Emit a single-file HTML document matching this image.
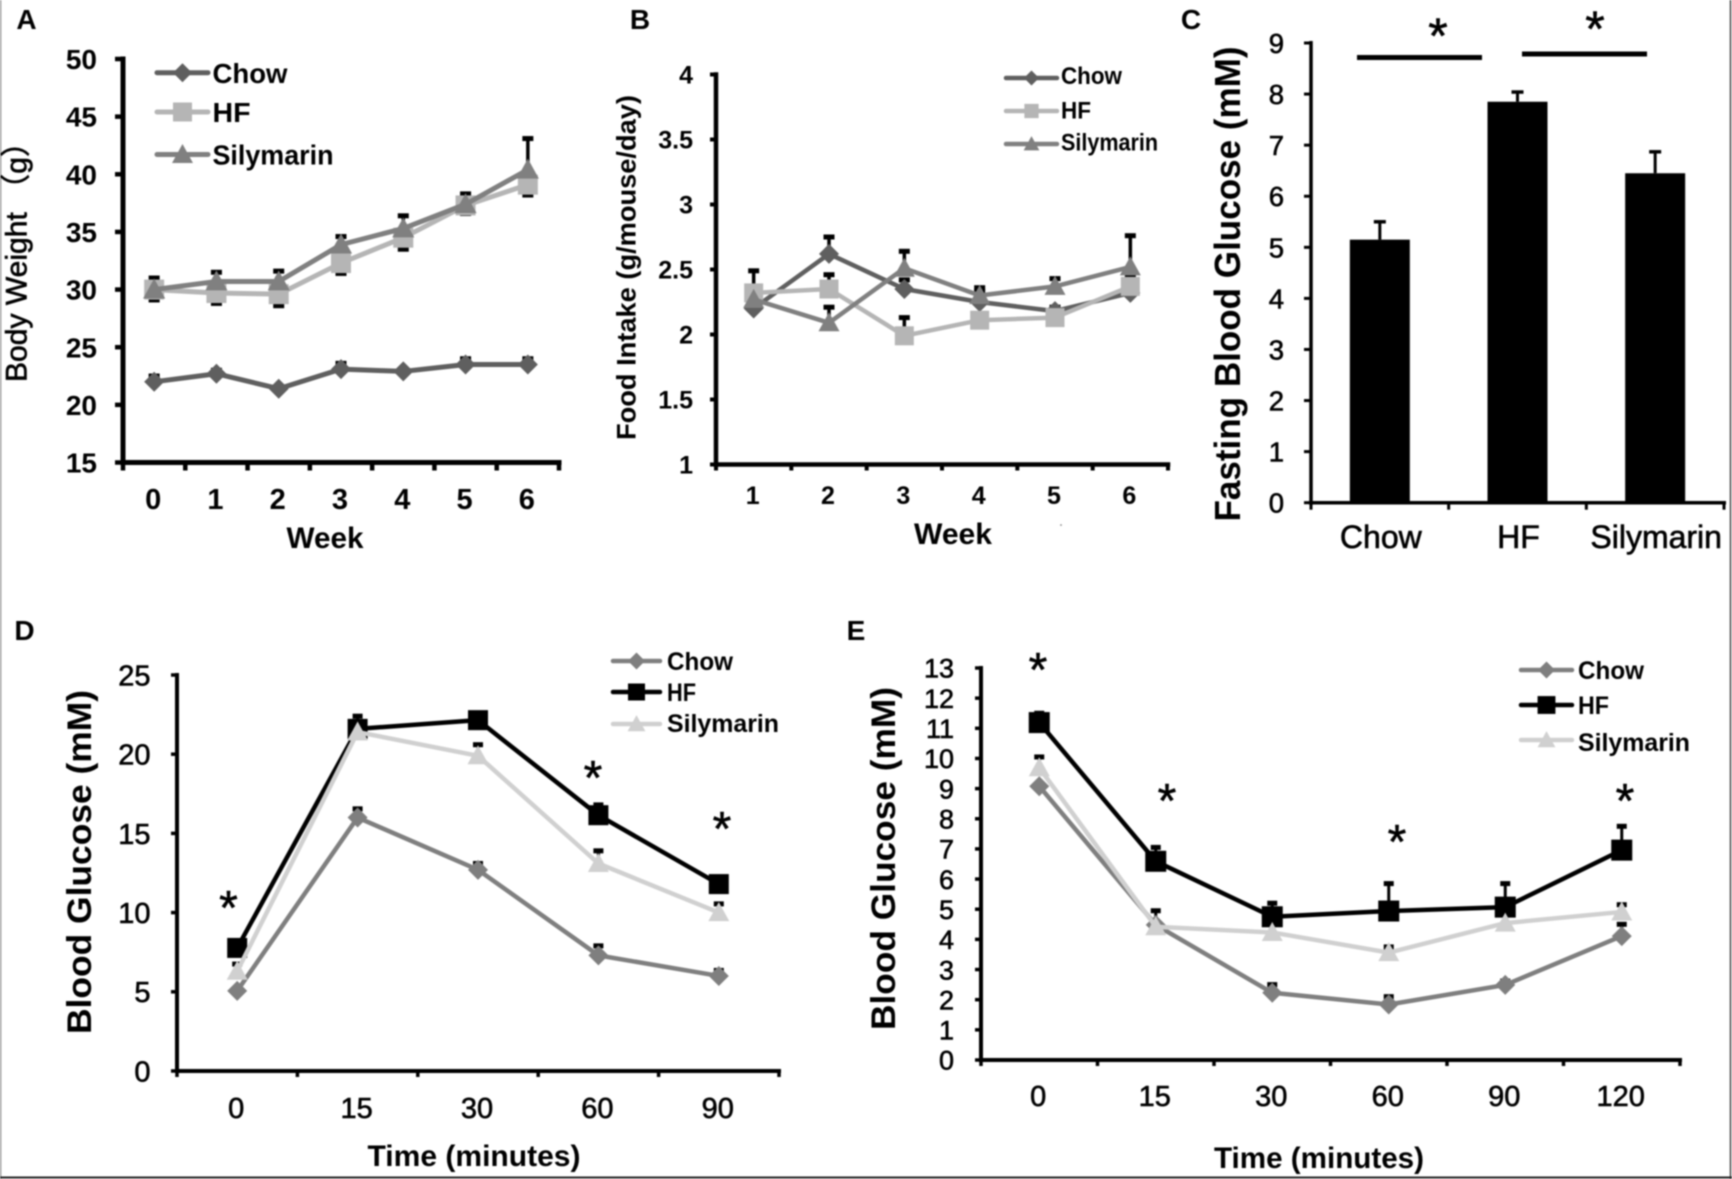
<!DOCTYPE html>
<html lang="en">
<head>
<meta charset="utf-8">
<title>Body weight, food intake and blood glucose panels</title>
<style>
html,body{margin:0;padding:0;background:#fff;width:1732px;height:1179px;overflow:hidden}
svg{display:block;position:absolute;left:0;top:0;filter:blur(.75px)}
text{font-family:"Liberation Sans","Noto Sans CJK SC",sans-serif;fill:#000}
.b{font-weight:bold}
.m{stroke:#000;stroke-width:.6px}
</style>
</head>
<body>
<svg id="fig" width="1732" height="1179" viewBox="0 0 1732 1179" xmlns="http://www.w3.org/2000/svg">
<rect x="0" y="0" width="1732" height="1179" fill="#fff"/>
<line x1="0.5" y1="0" x2="0.5" y2="1179" stroke="#8a8a8a" stroke-width="1.5"/>
<line x1="1730.5" y1="0" x2="1730.5" y2="1179" stroke="#444" stroke-width="1.5"/>
<line x1="0" y1="1177.5" x2="1732" y2="1177.5" stroke="#222" stroke-width="2"/>

<g id="panel-a">
<text class="b" x="26.5" y="29" font-size="28" text-anchor="middle">A</text>
<text class="m" transform="translate(26.6,254.5) rotate(-90)" font-size="30" text-anchor="middle" textLength="255" lengthAdjust="spacingAndGlyphs">Body Weight （g）</text>
<text class="b" x="325" y="548" font-size="30" text-anchor="middle" textLength="77" lengthAdjust="spacingAndGlyphs">Week</text>
</g>

<g id="panel-b">
<text class="b" x="640" y="29" font-size="28" text-anchor="middle">B</text>
<text class="b" transform="translate(635.5,267.5) rotate(-90)" font-size="27" text-anchor="middle" textLength="345" lengthAdjust="spacingAndGlyphs">Food Intake (g/mouse/day)</text>
<text class="b" x="953" y="544" font-size="30" text-anchor="middle" textLength="78" lengthAdjust="spacingAndGlyphs">Week</text>
<circle cx="1061" cy="525" r=".8" fill="#666"/>
</g>

<g id="panel-c">
<text class="b" x="1191" y="29" font-size="28" text-anchor="middle">C</text>
<text class="b" transform="translate(1240,284) rotate(-90)" font-size="36" text-anchor="middle" textLength="475" lengthAdjust="spacingAndGlyphs">Fasting Blood Glucose (mM)</text>
<rect x="1357" y="55" width="125" height="5" fill="#000"/>
<rect x="1522" y="51.5" width="125" height="5" fill="#000"/>
<text class="m" x="1438" y="53" font-size="50" text-anchor="middle">*</text>
<text class="m" x="1595" y="46" font-size="50" text-anchor="middle">*</text>
</g>

<g id="panel-d">
<text class="b" x="24.5" y="640" font-size="28" text-anchor="middle">D</text>
<text class="b" transform="translate(91,862) rotate(-90)" font-size="34" text-anchor="middle" textLength="344" lengthAdjust="spacingAndGlyphs">Blood Glucose (mM)</text>
<text class="b" x="474" y="1166" font-size="30" text-anchor="middle" textLength="213" lengthAdjust="spacingAndGlyphs">Time (minutes)</text>
<text class="m" x="228.5" y="924" font-size="48" text-anchor="middle">*</text>
<text class="m" x="593" y="794" font-size="48" text-anchor="middle">*</text>
<text class="m" x="722" y="845" font-size="48" text-anchor="middle">*</text>
</g>

<g id="panel-e">
<text class="b" x="856" y="640" font-size="28" text-anchor="middle">E</text>
<text class="b" transform="translate(895,858.5) rotate(-90)" font-size="34" text-anchor="middle" textLength="343" lengthAdjust="spacingAndGlyphs">Blood Glucose (mM)</text>
<text class="b" x="1319" y="1168" font-size="30" text-anchor="middle" textLength="210" lengthAdjust="spacingAndGlyphs">Time (minutes)</text>
<text class="m" x="1038" y="686" font-size="48" text-anchor="middle">*</text>
<text class="m" x="1167" y="817" font-size="48" text-anchor="middle">*</text>
<text class="m" x="1397" y="858" font-size="48" text-anchor="middle">*</text>
<text class="m" x="1625" y="817" font-size="48" text-anchor="middle">*</text>
</g>
</svg>

<script>
// Panel A: body weight
const aCategories = ['0','1','2','3','4','5','6'];
const aYTicks = [15,20,25,30,35,40,45,50];
const aChow = [22.0,22.7,21.4,23.1,22.9,23.5,23.5];
const aHF = [30.0,29.7,29.6,32.3,34.5,37.3,39.1];
const aSilymarin = [30.0,30.7,30.7,33.9,35.3,37.4,40.4];
const aChowUpper = [22.5,23.0,null,23.6,null,24.0,24.0];
const aHFLower = [29.1,28.8,28.6,31.4,33.5,36.6,38.2];
const aSilymarinUpper = [31.0,31.5,31.6,34.6,36.4,38.3,43.1];

// Panel B: food intake
const bCategories = ['1','2','3','4','5','6'];
const bYTicks = [1,1.5,2,2.5,3,3.5,4];
const bChow = [2.2,2.62,2.35,2.25,2.18,2.32];
const bHF = [2.32,2.35,1.99,2.11,2.13,2.37];
const bSilymarin = [2.27,2.09,2.51,2.30,2.37,2.52];
const bChowUpper = [null,2.75,2.42,2.33,2.21,null];
const bHFUpper = [2.49,2.46,2.13,null,null,2.45];
const bSilymarinUpper = [null,2.21,2.64,2.36,2.43,2.76];

// Panel C: fasting glucose
const cCategories = ['Chow','HF','Silymarin'];
const cYTicks = [0,1,2,3,4,5,6,7,8,9];
const cValues = [5.15,7.85,6.45];
const cUpper = [5.5,8.04,6.87];

// Panel D: glucose tolerance
const dCategories = ['0','15','30','60','90'];
const dYTicks = [0,5,10,15,20,25];
const dChow = [5.06,16.0,12.7,7.3,6.0];
const dHF = [7.77,21.6,22.15,16.15,11.8];
const dSilymarin = [6.3,21.4,19.9,13.1,10.0];
const dChowUpper = [null,16.55,13.1,7.9,6.35];
const dHFUpper = [null,22.4,null,16.8,null];
const dSilymarinUpper = [6.75,null,20.6,13.9,10.55];

// Panel E: insulin tolerance
const eCategories = ['0','15','30','60','90','120'];
const eYTicks = [0,1,2,3,4,5,6,7,8,9,10,11,12,13];
const eChow = [9.08,4.48,2.23,1.84,2.49,4.11];
const eHF = [11.19,6.59,4.75,4.94,5.07,6.96];
const eSilymarin = [9.69,4.42,4.23,3.56,4.54,4.91];
const eChowUpper = [null,null,2.5,2.1,2.62,4.5];
const eHFUpper = [11.5,7.05,5.2,5.85,5.85,7.75];
const eSilymarinUpper = [10.05,4.95,null,3.75,null,5.15];

const SVGNS = 'http://www.w3.org/2000/svg';

function add(parent, tag, attrs, name) {
  const el = document.createElementNS(SVGNS, tag);
  for (const k in attrs) el.setAttribute(k, attrs[k]);
  
  
  parent.appendChild(el);
  return el;
}

function makeScaleX(x0, x1, n) {
  return function (i) { return x0 + (i + 0.5) * (x1 - x0) / n; };
}
function makeScaleY(vMin, vMax, yBot, yTop) {
  return function (v) { return yBot - (v - vMin) * (yBot - yTop) / (vMax - vMin); };
}

function drawAxes(g, c, yScale) {
  const w = c.axisWidth;
  add(g, 'line', {x1:c.x0, y1:c.yTop - w/2, x2:c.x0, y2:c.yBot + w/2, stroke:'#000', 'stroke-width':w}, c.id + '-y-axis');
  add(g, 'line', {x1:c.x0 - w/2, y1:c.yBot, x2:c.x1 + w/2, y2:c.yBot, stroke:'#000', 'stroke-width':w}, c.id + '-x-axis');
  c.yTicks.forEach(function (v) {
    const y = yScale(v);
    add(g, 'line', {x1:c.x0 - c.tick, y1:y, x2:c.x0, y2:y, stroke:'#000', 'stroke-width':w - 0.5}, c.id + '-y-tick');
    const t = add(g, 'text', {x:c.yLabelRight, y:y + c.yFont * 0.36, 'font-size':c.yFont, 'text-anchor':'end', class:c.tickClass}, c.id + '-y-tick-label');
    t.textContent = String(v);
  });
  const step = (c.x1 - c.x0) / c.cats.length;
  for (let i = 0; i <= c.cats.length; i++) {
    const x = c.x0 + i * step;
    add(g, 'line', {x1:x, y1:c.yBot, x2:x, y2:c.yBot + c.tick, stroke:'#000', 'stroke-width':w - 0.5}, c.id + '-x-tick');
  }
  c.cats.forEach(function (label, i) {
    const x = c.x0 + (i + 0.5) * step + c.xLabelShift;
    const t = add(g, 'text', {x:x, y:c.xLabelY, 'font-size':c.xFont, 'text-anchor':'middle', class:c.tickClass}, c.id + '-x-tick-label');
    t.textContent = label;
  });
}

function drawMarker(g, kind, x, y, color, size, name) {
  const r = size / 2;
  if (kind === 'diamond') {
    add(g, 'polygon', {points:[x,y-r, x+r,y, x,y+r, x-r,y].join(' '), fill:color}, name);
  } else if (kind === 'square') {
    add(g, 'rect', {x:x-r, y:y-r, width:size, height:size, fill:color}, name);
  } else {
    add(g, 'polygon', {points:[x,y-r*1.05, x+r*1.05,y+r*0.85, x-r*1.05,y+r*0.85].join(' '), fill:color}, name);
  }
}

function drawErrorBars(g, c, xScale, yScale, base, ends, name) {
  ends.forEach(function (v, i) {
    if (v === null) return;
    const x = xScale(i), y0 = yScale(base[i]), y1 = yScale(v);
    add(g, 'line', {x1:x, y1:y0, x2:x, y2:y1, stroke:'#000', 'stroke-width':c.errWidth}, name + '-stem');
    add(g, 'line', {x1:x - c.capW/2, y1:y1, x2:x + c.capW/2, y2:y1, stroke:'#000', 'stroke-width':c.capH}, name + '-cap');
  });
}

function drawLegend(g, c) {
  c.series.forEach(function (s, i) {
    const y = c.legend.ys[i];
    const key = s.name.toLowerCase();
    add(g, 'line', {x1:c.legend.x0, y1:y, x2:c.legend.x1, y2:y, stroke:s.color, 'stroke-width':c.lineWidth, 'stroke-linecap':'round'}, c.id + '-legend-line-' + key);
    drawMarker(g, s.marker, (c.legend.x0 + c.legend.x1) / 2, y, s.color, s.size * c.legend.mk, c.id + '-legend-marker-' + key);
    const t = add(g, 'text', {x:c.legend.tx, y:y + c.legend.font * 0.36 + c.legend.textDy[i], 'font-size':c.legend.font, class:'b', textLength:c.legend.widths[i], lengthAdjust:'spacingAndGlyphs'}, c.id + '-legend-label-' + key);
    t.textContent = s.name;
  });
}

function lineChart(c) {
  const g = document.getElementById('panel-' + c.id);
  const xScale = makeScaleX(c.x0, c.x1, c.cats.length);
  const yScale = makeScaleY(c.vMin, c.vMax, c.yBot, c.yTop);
  drawAxes(g, c, yScale);
  c.series.forEach(function (s) {
    const key = s.name.toLowerCase();
    if (s.upper) drawErrorBars(g, c, xScale, yScale, s.vals, s.upper, c.id + '-error-bar-' + key);
    if (s.lower) drawErrorBars(g, c, xScale, yScale, s.vals, s.lower, c.id + '-error-bar-lower-' + key);
  });
  c.series.forEach(function (s) {
    const key = s.name.toLowerCase();
    const pts = s.vals.map(function (v, i) { return xScale(i) + ',' + yScale(v); }).join(' ');
    add(g, 'polyline', {points:pts, fill:'none', stroke:s.color, 'stroke-width':c.lineWidth, 'stroke-linejoin':'round'}, c.id + '-line-' + key);
    s.vals.forEach(function (v, i) {
      drawMarker(g, s.marker, xScale(i), yScale(v), s.color, s.size, c.id + '-point-' + key);
    });
  });
  drawLegend(g, c);
}

lineChart({
  id:'a', x0:123, x1:559, yTop:59, yBot:462.5, vMin:15, vMax:50, cats:aCategories, yTicks:aYTicks,
  axisWidth:5, tick:8, yLabelRight:97, yFont:28, xFont:29, xLabelY:509, xLabelShift:-1, tickClass:'b',
  lineWidth:5, errWidth:3.5, capW:11, capH:5,
  series:[
    {name:'Chow', vals:aChow, color:'#5f5f5f', marker:'diamond', size:20, upper:aChowUpper},
    {name:'HF', vals:aHF, color:'#b5b5b5', marker:'square', size:20, lower:aHFLower},
    {name:'Silymarin', vals:aSilymarin, color:'#808080', marker:'triangle', size:21, upper:aSilymarinUpper}
  ],
  legend:{x0:157, x1:208, ys:[72.7,112,154.5], tx:212.5, font:28, widths:[75,38,121], textDy:[0,0,0], mk:0.95}
});

lineChart({
  id:'b', x0:716, x1:1168, yTop:74.5, yBot:464.5, vMin:1, vMax:4, cats:bCategories, yTicks:bYTicks,
  axisWidth:4.5, tick:6, yLabelRight:693, yFont:25, xFont:25, xLabelY:504, xLabelShift:-1, tickClass:'b',
  lineWidth:4.5, errWidth:3.5, capW:11, capH:5,
  series:[
    {name:'Chow', vals:bChow, color:'#5f5f5f', marker:'diamond', size:20, upper:bChowUpper},
    {name:'HF', vals:bHF, color:'#b5b5b5', marker:'square', size:19, upper:bHFUpper},
    {name:'Silymarin', vals:bSilymarin, color:'#808080', marker:'triangle', size:20, upper:bSilymarinUpper}
  ],
  legend:{x0:1006, x1:1057, ys:[78,111,144], tx:1061, font:24, widths:[61,30,97], textDy:[-2.5,-1,-2], mk:0.75}
});

lineChart({
  id:'d', x0:177, x1:779, yTop:675, yBot:1071, vMin:0, vMax:25, cats:dCategories, yTicks:dYTicks,
  axisWidth:4, tick:6, yLabelRight:150.5, yFont:29, xFont:29, xLabelY:1118, xLabelShift:-1, tickClass:'m',
  lineWidth:4.5, errWidth:3, capW:10, capH:5,
  series:[
    {name:'Chow', vals:dChow, color:'#7f7f7f', marker:'diamond', size:20, upper:dChowUpper},
    {name:'HF', vals:dHF, color:'#000000', marker:'square', size:20, upper:dHFUpper},
    {name:'Silymarin', vals:dSilymarin, color:'#d0d0d0', marker:'triangle', size:20, upper:dSilymarinUpper}
  ],
  legend:{x0:613, x1:660, ys:[661,692,724], tx:667, font:25, widths:[66,29,112], textDy:[0,0,-1], mk:0.85}
});

lineChart({
  id:'e', x0:981, x1:1680, yTop:668, yBot:1060, vMin:0, vMax:13, cats:eCategories, yTicks:eYTicks,
  axisWidth:4, tick:6, yLabelRight:954, yFont:27, xFont:29, xLabelY:1106, xLabelShift:-1, tickClass:'m',
  lineWidth:4.5, errWidth:3, capW:10, capH:5,
  series:[
    {name:'Chow', vals:eChow, color:'#7f7f7f', marker:'diamond', size:20, upper:eChowUpper},
    {name:'HF', vals:eHF, color:'#000000', marker:'square', size:21, upper:eHFUpper},
    {name:'Silymarin', vals:eSilymarin, color:'#d0d0d0', marker:'triangle', size:20, upper:eSilymarinUpper}
  ],
  legend:{x0:1521, x1:1572, ys:[670,705,740], tx:1578, font:25, widths:[66,31,112], textDy:[0,0,2], mk:0.85}
});

(function () {
  const x0 = 1311, x1 = 1724, yTop = 43, yBot = 502.7, barW = 60;
  const g = document.getElementById('panel-c');
  const yScale = makeScaleY(0, 9, yBot, yTop);
  const xScale = makeScaleX(x0, x1, cCategories.length);
  cValues.forEach(function (v, i) {
    const x = xScale(i);
    add(g, 'rect', {x:x - barW/2, y:yScale(v), width:barW, height:yBot - yScale(v), fill:'#000'}, 'c-bar-' + cCategories[i].toLowerCase());
    add(g, 'line', {x1:x, y1:yScale(v), x2:x, y2:yScale(cUpper[i]), stroke:'#000', 'stroke-width':3}, 'c-error-bar-stem');
    add(g, 'line', {x1:x - 6, y1:yScale(cUpper[i]), x2:x + 6, y2:yScale(cUpper[i]), stroke:'#000', 'stroke-width':3.5}, 'c-error-bar-cap');
  });
  add(g, 'line', {x1:x0, y1:yTop - 2, x2:x0, y2:yBot + 2, stroke:'#000', 'stroke-width':3.5}, 'c-y-axis');
  add(g, 'line', {x1:x0 - 2, y1:yBot, x2:x1 + 2, y2:yBot, stroke:'#000', 'stroke-width':3.5}, 'c-x-axis');
  cYTicks.forEach(function (v) {
    add(g, 'line', {x1:x0 - 7, y1:yScale(v), x2:x0, y2:yScale(v), stroke:'#000', 'stroke-width':3}, 'c-y-tick');
    const t = add(g, 'text', {x:1284, y:yScale(v) + 10, 'font-size':27.5, 'text-anchor':'end', class:'m'}, 'c-y-tick-label');
    t.textContent = String(v);
  });
  for (let i = 0; i <= cCategories.length; i++) {
    const x = x0 + i * (x1 - x0) / cCategories.length;
    add(g, 'line', {x1:x, y1:yBot, x2:x, y2:yBot + 7, stroke:'#000', 'stroke-width':3}, 'c-x-tick');
  }
  cCategories.forEach(function (label, i) {
    const t = add(g, 'text', {x:xScale(i) + 1, y:548, 'font-size':32, 'text-anchor':'middle', class:'m'}, 'c-x-tick-label');
    t.textContent = label;
  });
})();
</script>
</body>
</html>
